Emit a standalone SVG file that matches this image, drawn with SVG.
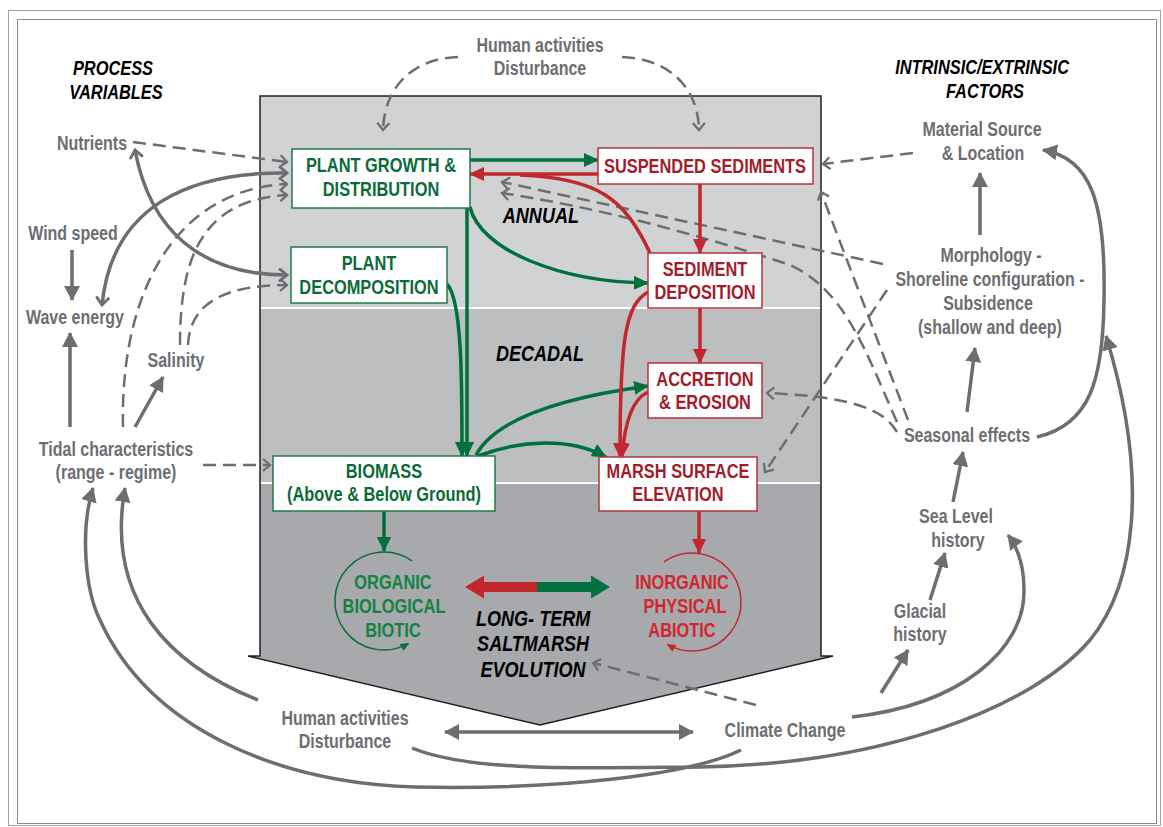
<svg xmlns="http://www.w3.org/2000/svg" width="1163" height="827" viewBox="0 0 1163 827">
<style>
text{font-family:"Liberation Sans",Arial,sans-serif;font-weight:700;text-anchor:middle;transform-box:fill-box;transform-origin:50% 50%;transform:scaleX(0.82)}
.lab{font-size:19.5px;fill:#6d6e71}
.hd{font-size:20px;font-style:italic;fill:#000}
.ph{font-size:22px;font-style:italic;fill:#000}
.tg{font-size:20px;fill:#0b6b38}
.tr{font-size:20px;fill:#a11d2b}
.cg{font-size:20px;fill:#138343}
.cr{font-size:20px;fill:#d1262e}
.bg{fill:#fff;stroke:#1f7a45;stroke-width:1.5}
.br{fill:#fff;stroke:#b3343b;stroke-width:1.5}
.sg{fill:none;stroke:#6d6e71;stroke-width:3.5}
.dg{fill:none;stroke:#6d6e71;stroke-width:2.5;stroke-dasharray:13 7}
.lg{fill:none;stroke:#00703c;stroke-width:3.5}
.lr{fill:none;stroke:#c1272d;stroke-width:3.5}
</style>
<defs>
<marker id="ag" markerUnits="userSpaceOnUse" viewBox="0 0 15 14" markerWidth="15" markerHeight="14" refX="14" refY="7" orient="auto"><path d="M0,0 L15,7 L0,14 z" fill="#00703c"/></marker>
<marker id="ar" markerUnits="userSpaceOnUse" viewBox="0 0 15 14" markerWidth="15" markerHeight="14" refX="14" refY="7" orient="auto"><path d="M0,0 L15,7 L0,14 z" fill="#c1272d"/></marker>
<marker id="ay" markerUnits="userSpaceOnUse" viewBox="0 0 15 16" markerWidth="15" markerHeight="16" refX="14" refY="8" orient="auto-start-reverse"><path d="M0,0 L15,8 L0,16 z" fill="#6d6e71"/></marker>
<marker id="cv" markerUnits="userSpaceOnUse" viewBox="-1 -1 10 14" markerWidth="10" markerHeight="14" refX="7" refY="6" orient="auto-start-reverse"><path d="M0,0 L7,6 L0,12" fill="none" stroke="#6d6e71" stroke-width="2.3" stroke-dasharray="none"/></marker>
<marker id="cs" markerUnits="userSpaceOnUse" viewBox="-1 -1 11 15" markerWidth="11" markerHeight="15" refX="8" refY="6.5" orient="auto-start-reverse"><path d="M0,0 L8,6.5 L0,13" fill="none" stroke="#6d6e71" stroke-width="2.8"/></marker>
<marker id="sgm" markerUnits="userSpaceOnUse" viewBox="0 0 9 8" markerWidth="9" markerHeight="8" refX="8" refY="4" orient="auto"><path d="M0,0 L9,4 L0,8 z" fill="#00703c"/></marker>
<marker id="srm" markerUnits="userSpaceOnUse" viewBox="0 0 9 8" markerWidth="9" markerHeight="8" refX="8" refY="4" orient="auto"><path d="M0,0 L9,4 L0,8 z" fill="#c1272d"/></marker>
<clipPath id="blk"><path d="M260,96 L821,96 L821,656 L833,656 L540,725 L248,656 L260,656 Z"/></clipPath>
</defs>

<g id="frame" fill="none">
<rect x="8.5" y="10.5" width="1152" height="815" stroke="#a0a0a0" stroke-width="1"/>
<rect x="17.5" y="19.5" width="1139" height="804" stroke="#8a8a8a" stroke-width="1"/>
</g>

<g id="timescale-block">
<g clip-path="url(#blk)">
<rect x="240" y="90" width="600" height="218" fill="#d1d2d4"/>
<rect x="240" y="308" width="600" height="175" fill="#bcbec0"/>
<rect x="240" y="483" width="600" height="250" fill="#a7a9ac"/>
<line x1="240" y1="308" x2="840" y2="308" stroke="#fff" stroke-width="2"/>
<line x1="240" y1="483" x2="840" y2="483" stroke="#fff" stroke-width="2"/>
</g>
<path d="M260,96 L821,96 L821,656 L833,656 L540,725 L248,656 L260,656 Z" fill="none" stroke="#231f20" stroke-width="1.5"/>
</g>

<g id="connectors">
<path class="dg" d="M458,57 C420,58 385,80 383,130" marker-end="url(#cv)"/>
<path class="dg" d="M622,57 C660,58 698,80 699,130" marker-end="url(#cv)"/>
<path class="dg" d="M133,142 L287,162" marker-end="url(#cv)"/>
<path class="sg" d="M287,173 C190,172 112,205 102,305" marker-start="url(#cs)" marker-end="url(#cs)"/>
<path class="sg" d="M135,150 C150,230 200,275 287,275" marker-start="url(#cs)" marker-end="url(#cs)"/>
<path class="dg" d="M123,427 C120,300 170,190 287,184" marker-end="url(#cv)"/>
<path class="dg" d="M180,345 C180,260 200,200 287,195" marker-end="url(#cv)"/>
<path class="dg" d="M188,345 C190,300 230,285 287,285" marker-end="url(#cv)"/>
<path class="dg" d="M203,465 L270,465" marker-end="url(#cv)"/>
<path class="sg" d="M72,250 L72,300" marker-end="url(#ay)"/>
<path class="sg" d="M70,427 L70,333" marker-end="url(#ay)"/>
<path class="sg" d="M135,427 L163,377" marker-end="url(#ay)"/>
<path class="sg" d="M258,700 C170,665 105,600 125,488" marker-end="url(#ay)"/>
<path class="sg" d="M741,750 C690,775 560,790 415,787 C280,783 150,730 100,620 C85,590 80,530 93,488" marker-end="url(#ay)"/>
<path class="sg" d="M412,748 C470,772 580,768 700,767 C880,764 1030,710 1090,640 C1135,585 1150,480 1106,336" marker-end="url(#ay)"/>
<path class="sg" d="M445,732 L693,732" marker-start="url(#ay)" marker-end="url(#ay)"/>
<path class="dg" d="M756,705 L593,663" marker-end="url(#cv)"/>
<path class="sg" d="M852,717 C960,705 1025,650 1024,590 C1024,565 1018,548 1008,535" marker-end="url(#ay)"/>
<path class="sg" d="M881,693 L908,650" marker-end="url(#ay)"/>
<path class="sg" d="M930,600 L945,553" marker-end="url(#ay)"/>
<path class="sg" d="M953,502 L963,452" marker-end="url(#ay)"/>
<path class="sg" d="M967,412 L975,348" marker-end="url(#ay)"/>
<path class="sg" d="M980,235 L980,173" marker-end="url(#ay)"/>
<path class="sg" d="M1037,437 C1090,425 1103,380 1104,300 C1106,200 1090,158 1043,150" marker-end="url(#ay)"/>
<path class="dg" d="M913,153 L823,164" marker-end="url(#cv)"/>
<path class="dg" d="M908,420 L821,192" marker-end="url(#cv)"/>
<path class="dg" d="M883,264 L502,182" marker-end="url(#cv)"/>
<path class="dg" d="M897,422 C865,350 845,290 790,265 C700,235 600,208 502,193" marker-end="url(#cv)"/>
<path class="dg" d="M897,432 C885,412 860,397 767,393" marker-end="url(#cv)"/>
<path class="dg" d="M887,290 L765,472" marker-end="url(#cv)"/>
<path class="lg" d="M470,160 L598,160" marker-end="url(#ag)"/>
<path class="lr" d="M598,174 L470,174" marker-end="url(#ar)"/>
<path class="lr" d="M650,253 C625,200 600,178 520,175"/>
<path class="lr" d="M700,184 L700,253" marker-end="url(#ar)"/>
<path class="lg" d="M470,207 C480,250 560,282 648,283" marker-end="url(#ag)"/>
<path class="lg" d="M467,208 L467,456" marker-end="url(#ag)"/>
<path class="lg" d="M447,284 C462,300 462,380 462,456" marker-end="url(#ag)"/>
<path class="lg" d="M476,455 C495,420 560,398 648,386" marker-end="url(#ag)"/>
<path class="lg" d="M478,456 C520,440 570,437 606,457" marker-end="url(#ag)"/>
<path class="lr" d="M648,292 C625,305 620,340 620,457" marker-end="url(#ar)"/>
<path class="lr" d="M648,392 C630,400 624,430 622,457" marker-end="url(#ar)"/>
<path class="lr" d="M700,308 L700,363" marker-end="url(#ar)"/>
<path class="lg" d="M384,511 L384,551" marker-end="url(#ag)"/>
<path class="lr" d="M699,511 L699,553" marker-end="url(#ar)"/>
</g>

<g id="nodes">
<g id="process-variables-title"><text class="hd" x="113" y="75">PROCESS</text><text class="hd" x="116" y="99">VARIABLES</text></g>
<g id="factors-title"><text class="hd" x="982" y="74">INTRINSIC/EXTRINSIC</text><text class="hd" x="985" y="98">FACTORS</text></g>
<g id="nutrients"><text class="lab" x="92" y="150">Nutrients</text></g>
<g id="wind-speed"><text class="lab" x="73" y="240">Wind speed</text></g>
<g id="wave-energy"><text class="lab" x="75" y="324">Wave energy</text></g>
<g id="salinity"><text class="lab" x="176" y="367">Salinity</text></g>
<g id="tidal"><text class="lab" x="116" y="456">Tidal characteristics</text><text class="lab" x="116" y="479">(range - regime)</text></g>
<g id="human-top"><text class="lab" x="540" y="52">Human activities</text><text class="lab" x="540" y="75">Disturbance</text></g>
<g id="human-bottom"><text class="lab" x="345" y="725">Human activities</text><text class="lab" x="345" y="748">Disturbance</text></g>
<g id="climate-change"><text class="lab" x="785" y="737">Climate Change</text></g>
<g id="glacial"><text class="lab" x="920" y="618">Glacial</text><text class="lab" x="920" y="641">history</text></g>
<g id="sea-level"><text class="lab" x="956" y="523">Sea Level</text><text class="lab" x="958" y="547">history</text></g>
<g id="seasonal"><text class="lab" x="967" y="442">Seasonal effects</text></g>
<g id="morphology"><text class="lab" x="991" y="262">Morphology -</text><text class="lab" x="990" y="286">Shoreline configuration -</text><text class="lab" x="988" y="310">Subsidence</text><text class="lab" x="990" y="334">(shallow and deep)</text></g>
<g id="material-source"><text class="lab" x="982" y="136">Material Source</text><text class="lab" x="983" y="160">&amp; Location</text></g>

<g id="annual"><text class="ph" x="541" y="223">ANNUAL</text></g>
<g id="decadal"><text class="ph" x="540" y="361">DECADAL</text></g>
<g id="long-term"><text class="ph" x="533" y="626">LONG- TERM</text><text class="ph" x="533" y="651">SALTMARSH</text><text class="ph" x="533" y="677">EVOLUTION</text></g>

<g id="plant-growth"><rect class="bg" x="292" y="149" width="178" height="59"/><text class="tg" x="381" y="172">PLANT GROWTH &amp;</text><text class="tg" x="381" y="196">DISTRIBUTION</text></g>
<g id="plant-decomposition"><rect class="bg" x="291" y="247" width="156" height="56"/><text class="tg" x="369" y="270">PLANT</text><text class="tg" x="369" y="294">DECOMPOSITION</text></g>
<g id="biomass"><rect class="bg" x="273" y="456" width="222" height="55"/><text class="tg" x="384" y="478">BIOMASS</text><text class="tg" x="384" y="501">(Above &amp; Below Ground)</text></g>
<g id="suspended-sediments"><rect class="br" x="598" y="148" width="215" height="36"/><text class="tr" x="705" y="173">SUSPENDED SEDIMENTS</text></g>
<g id="sediment-deposition"><rect class="br" x="648" y="253" width="114" height="55"/><text class="tr" x="705" y="276">SEDIMENT</text><text class="tr" x="705" y="299">DEPOSITION</text></g>
<g id="accretion"><rect class="br" x="648" y="363" width="114" height="55"/><text class="tr" x="705" y="386">ACCRETION</text><text class="tr" x="705" y="409">&amp; EROSION</text></g>
<g id="marsh-surface"><rect class="br" x="599" y="457" width="158" height="54"/><text class="tr" x="678" y="478">MARSH SURFACE</text><text class="tr" x="678" y="501">ELEVATION</text></g>

<g id="organic">
<path d="M412.1,560.9 A49,49 0 1 0 408.5,643.4" fill="none" stroke="#00703c" stroke-width="1.5" marker-end="url(#sgm)"/>
<text class="cg" x="393" y="589">ORGANIC</text><text class="cg" x="394" y="613">BIOLOGICAL</text><text class="cg" x="393" y="637">BIOTIC</text>
</g>
<g id="inorganic">
<path d="M663.9,561.9 A49,49 0 1 1 667.5,644.4" fill="none" stroke="#c1272d" stroke-width="1.5" marker-end="url(#srm)"/>
<text class="cr" x="682" y="589">INORGANIC</text><text class="cr" x="685" y="613">PHYSICAL</text><text class="cr" x="682" y="637">ABIOTIC</text>
</g>
<g id="long-term-arrow">
<path d="M465,587 L484,575.5 L484,582 L537,582 L537,592 L484,592 L484,598.5 Z" fill="#c1272d"/>
<path d="M610,587 L591,575.5 L591,582 L537,582 L537,592 L591,592 L591,598.5 Z" fill="#00703c"/>
</g>
</g>
</svg>
